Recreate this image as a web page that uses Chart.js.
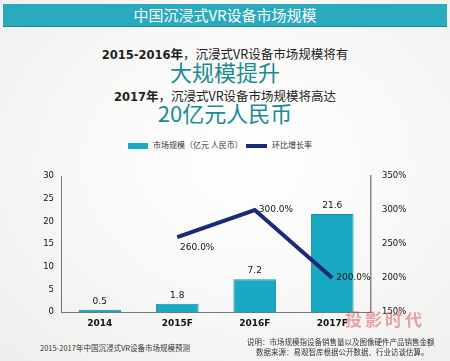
<!DOCTYPE html>
<html>
<head>
<meta charset="utf-8">
<script src="https://cdn.jsdelivr.net/npm/chart.js@4"></script>
<style>
  html, body { margin: 0; padding: 0; }
  body {
    width: 450px; height: 361px; overflow: hidden; position: relative;
    background: radial-gradient(ellipse at 55% 45%, #ffffff 0%, #f7f7f6 55%, #eeeeec 100%);
    font-family: "Noto Sans CJK SC", "DejaVu Sans", sans-serif;
  }
  .banner {
    position: absolute; left: 3px; top: 4px; width: 444px; height: 22px;
    background: #2aaabd; border-bottom: 1px solid #178b9a;
    color: #fff; font-size: 15px; line-height: 22px; text-align: center;
  }
  .t { position: absolute; left: 0; width: 450px; text-align: center; white-space: nowrap; }
  .sub { font-size: 12.5px; color: #222; }
  .sub b { font-family: "DejaVu Sans", sans-serif; font-size: 11.5px; }
  .big { font-size: 22px; color: #1a8c92; }
  #wrap { position: absolute; left: 0; top: 130px; width: 450px; height: 205px; }
  .leg { position: absolute; top: 139px; font-size: 8px; color: #333; }
  .sw { display: inline-block; vertical-align: middle; margin-right: 5px; }
  .foot { position: absolute; font-size: 7.5px; color: #333; white-space: nowrap; }
</style>
</head>
<body>
<div class="banner">中国沉浸式VR设备市场规模</div>
<div class="t sub" style="top:44px"><b>2015-2016</b><strong>年</strong>，沉浸式VR设备市场规模将有</div>
<div class="t big" style="top:55px">大规模提升</div>
<div class="t sub" style="top:86px"><b>2017</b><strong>年</strong>，沉浸式VR设备市场规模将高达</div>
<div class="t big" style="top:96px">20亿元人民币</div>

<div class="leg" style="left:128px"><span class="sw" style="width:20px;height:6px;background:#19a9c3"></span>市场规模（亿元 人民币）</div>
<div class="leg" style="left:246px"><span class="sw" style="width:21px;height:4px;background:#1b2a78"></span>环比增长率</div>

<div id="wrap"><canvas id="c" width="450" height="205"></canvas></div>

<div class="foot" style="left:40px;top:342px">2015-2017年中国沉浸式VR设备市场规模预测</div>
<div class="foot" style="left:247px;top:336px">说明：市场规模指设备销售量以及图像硬件产品销售金额</div>
<div class="foot" style="left:256px;top:346px">数据来源：易观智库根据公开数据、行业访谈估算。</div>
<div class="foot" style="left:345px;top:306px;font-size:17px;font-weight:bold;color:rgba(215,60,70,0.45);letter-spacing:3px">投影时代</div>

<script>
const categories = ['2014', '2015F', '2016F', '2017F'];
const marketSize = [0.5, 1.8, 7.2, 21.6];
const growthRate = [null, 260, 300, 200];
const leftTicks = [0, 5, 10, 15, 20, 25, 30];
const rightTicks = [150, 200, 250, 300, 350];

const valueLabels = {
  id: 'valueLabels',
  afterDatasetsDraw(chart) {
    const ctx = chart.ctx;
    ctx.save();
    ctx.font = '9px "DejaVu Sans", sans-serif';
    ctx.fillStyle = '#111';
    ctx.textAlign = 'center';
    ctx.textBaseline = 'bottom';
    chart.getDatasetMeta(0).data.forEach((el, i) => {
      ctx.fillText(marketSize[i].toFixed(1), el.x, el.y - 4);
    });
    const lineMeta = chart.getDatasetMeta(1);
    ctx.textBaseline = 'middle';
    lineMeta.data.forEach((el, i) => {
      if (growthRate[i] == null) return;
      const txt = growthRate[i].toFixed(1) + '%';
      if (i === 1) {
        ctx.textAlign = 'center';
        ctx.fillText(txt, el.x + 20, el.y + 10);
      } else {
        ctx.textAlign = 'left';
        ctx.fillText(txt, el.x + 4, el.y);
      }
    });
    ctx.restore();
  }
};

new Chart(document.getElementById('c'), {
  data: {
    labels: categories,
    datasets: [
      {
        type: 'bar',
        data: marketSize,
        backgroundColor: '#19a9c3',
        borderColor: '#1593a8',
        borderWidth: 1,
        barPercentage: 0.55,
        categoryPercentage: 1,
        yAxisID: 'y',
        order: 2
      },
      {
        type: 'line',
        data: growthRate,
        borderColor: '#1b2a78',
        borderWidth: 4,
        pointRadius: 0,
        tension: 0,
        yAxisID: 'y1',
        order: 1
      }
    ]
  },
  options: {
    responsive: false,
    animation: false,
    layout: { padding: { top: 46, left: 0, right: 0, bottom: 0 } },
    plugins: { legend: { display: false }, tooltip: { enabled: false } },
    scales: {
      x: {
        grid: { display: false, drawTicks: false },
        border: { color: '#777' },
        ticks: { color: '#111', font: { size: 9, weight: 'bold', family: '"DejaVu Sans", sans-serif' }, padding: 6 },
        afterFit: s => { s.height = 23; }
      },
      y: {
        position: 'left',
        min: 0, max: 30,
        afterBuildTicks: s => { s.ticks = leftTicks.map(v => ({ value: v })); },
        grid: { display: false, drawOnChartArea: false, drawTicks: true, tickLength: 3, tickColor: '#777' },
        border: { color: '#777' },
        ticks: { color: '#111', font: { size: 8.5, family: '"DejaVu Sans", sans-serif' }, padding: 4 },
        afterFit: s => { s.width = 61; }
      },
      y1: {
        position: 'right',
        min: 150, max: 350,
        afterBuildTicks: s => { s.ticks = rightTicks.map(v => ({ value: v })); },
        grid: { display: false, drawOnChartArea: false, drawTicks: true, tickLength: 3, tickColor: '#777' },
        border: { color: '#888', width: 1.5 },
        ticks: { color: '#111', font: { size: 8.5, family: '"DejaVu Sans", sans-serif' }, padding: 8, callback: v => v + '%' },
        afterFit: s => { s.width = 79; }
      }
    }
  },
  plugins: [valueLabels]
});
</script>
</body>
</html>
